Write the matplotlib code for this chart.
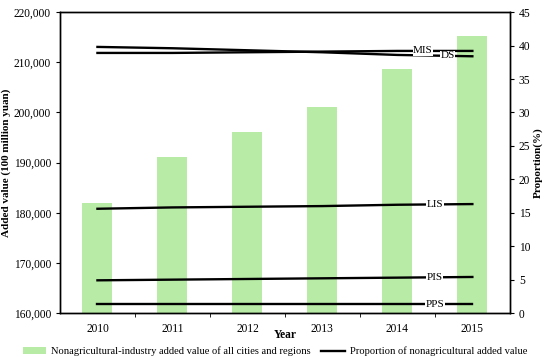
import matplotlib.pyplot as plt
import numpy as np

plt.rcParams['font.family'] = ['Liberation Serif', 'DejaVu Serif']

# data
years = ['2010', '2011', '2012', '2013', '2014', '2015']
added_value = [181900, 191100, 196100, 201100, 208600, 215200]

ds = [39.8, 39.6, 39.3, 39.0, 38.6, 38.4]
mis = [38.9, 38.9, 39.0, 39.1, 39.2, 39.2]
lis = [15.6, 15.8, 15.9, 16.0, 16.2, 16.3]
pis = [4.9, 5.0, 5.1, 5.2, 5.3, 5.4]
pps = [1.3, 1.3, 1.3, 1.3, 1.3, 1.3]
line_names = ['MIS', 'DS', 'LIS', 'PIS', 'PPS']
line_vals = [mis, ds, lis, pis, pps]

green = '#b8eca6'
x = np.arange(len(years))

fig = plt.figure(figsize=(5.5, 3.57), dpi=100)
ax = fig.add_axes([0.109, 0.123, 0.818, 0.843])
ax.bar(x, added_value, width=0.4, color=green,
       label='Nonagricultural-industry added value of all cities and regions')
ax.set_xlim(-0.5, 5.5)
ax.set_ylim(160000, 220000)
ax.set_yticks(range(160000, 220001, 10000))
ax.set_yticklabels([f'{v:,}' for v in range(160000, 220001, 10000)], fontsize=8.3)
ax.set_xticks(x)
ax.set_xticklabels(years, fontsize=8.3)
ax.tick_params(axis='x', which='major', length=0, pad=7)
ax.set_xticks(x[:-1] + 0.5, minor=True)
ax.tick_params(axis='x', which='minor', length=3, direction='out')
ax.tick_params(axis='y', length=3)
ax.set_xlabel('Year', fontsize=8.3, fontweight='bold', labelpad=-4)
ax.set_ylabel('Added value (100 million yuan)', fontsize=8, fontweight='bold', labelpad=2)

ax2 = ax.twinx()
ax2.set_ylim(0, 45)
ax2.set_yticks(range(0, 46, 5))
ax2.tick_params(axis='y', labelsize=8.3, length=3)
ax2.set_ylabel('Proportion(%)', fontsize=8, fontweight='bold', labelpad=2)
for i, (name, vals) in enumerate(zip(line_names, line_vals)):
    ax2.plot(x, vals, color='black', lw=1.7,
             label='Proportion of nonagricultural added value' if i == 0 else None)
    xp = 4.34 if name == 'MIS' else (4.67 if name == 'DS' else 4.5)
    yp = np.interp(xp, x, vals)
    ax2.text(xp, yp, name, fontsize=8, ha='center', va='center',
             bbox=dict(facecolor='white', edgecolor='none', pad=0.3))

for a in (ax, ax2):
    for s in a.spines.values():
        s.set_linewidth(1.0)

h1, l1 = ax.get_legend_handles_labels()
h2, l2 = ax2.get_legend_handles_labels()
fig.legend(h1 + h2, l1 + l2, loc='lower center', bbox_to_anchor=(0.5, -0.025),
           ncol=2, frameon=False, fontsize=7.6, handlelength=2.2,
           handletextpad=0.5, columnspacing=1.0)

fig.savefig('out.png', dpi=100)
